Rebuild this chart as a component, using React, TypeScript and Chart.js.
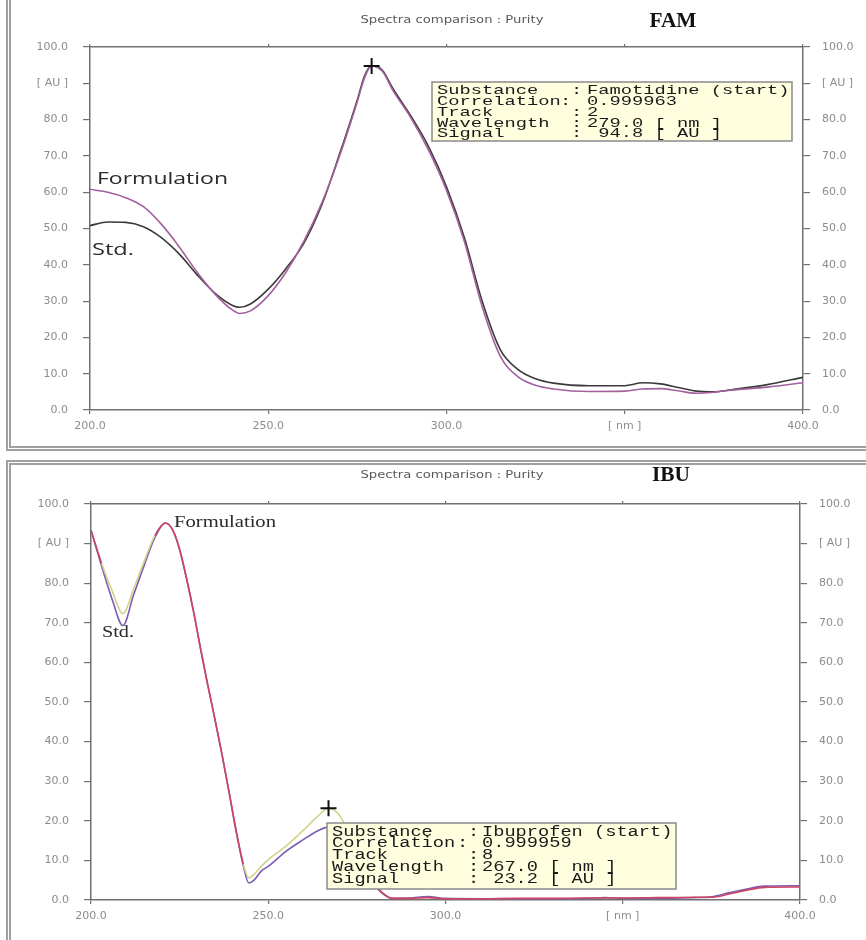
import React, { useEffect, useRef } from 'react';
import { Chart, registerables } from 'chart.js';

Chart.register(...registerables);

// ---------- data ----------
const seriesNames = ['Std.', 'Formulation'];
const chartTitle = 'Spectra comparison : Purity';

const xTickValues = [200, 250, 300, 350, 400];
const xTickLabels = ['200.0', '250.0', '300.0', '[ nm ]', '400.0'];
const yTickValues = [0, 10, 20, 30, 40, 50, 60, 70, 80, 90, 100];
const yTickLabels = ['0.0', '10.0', '20.0', '30.0', '40.0', '50.0', '60.0', '70.0', '80.0', '[ AU ]', '100.0'];

// FAM (Famotidine)
const famWavelengths = [200, 205, 210, 215, 220, 225, 230, 235, 240, 242, 245, 250, 255, 260, 265, 270, 275, 277, 279, 282, 285, 290, 295, 300, 305, 310, 315, 320, 325, 330, 340, 350, 355, 360, 365, 370, 375, 380, 390, 400];
const famStd = [50.8, 51.8, 51.7, 50.5, 47.5, 43.0, 37.3, 32.2, 28.8, 28.3, 29.2, 33.3, 39.0, 46.0, 56.5, 70.5, 85.5, 92.0, 94.8, 93.6, 88.5, 81.0, 72.5, 61.5, 47.5, 30.0, 16.8, 11.2, 8.6, 7.4, 6.7, 6.7, 7.5, 7.2, 6.2, 5.2, 5.0, 5.6, 7.0, 9.0];
const famFormulation = [60.8, 60.0, 58.5, 56.0, 51.2, 45.0, 38.0, 32.0, 27.5, 26.6, 27.3, 31.5, 38.0, 46.5, 57.0, 70.0, 85.0, 91.5, 94.8, 93.3, 88.0, 80.5, 71.5, 60.5, 46.5, 28.5, 15.0, 9.2, 6.8, 5.8, 5.1, 5.2, 5.8, 5.9, 5.3, 4.6, 4.9, 5.5, 6.3, 7.5];
const famPeak = [279.0, 94.8];
const famTag = 'FAM';
const famInfoLabels = ['Substance', 'Correlation', 'Track', 'Wavelength', 'Signal'];
const famInfoValues = ['Famotidine (start)', '0.999963', '2', '279.0 [ nm ]', ' 94.8 [ AU ]'];

// IBU (Ibuprofen)
const ibuWavelengths = [200, 203, 206, 209, 212, 215, 218, 221, 223, 225, 227, 229, 231, 233, 235, 237, 239, 241, 243, 244.5, 246, 248, 250, 255, 260, 264, 267, 270, 273, 276, 279, 282, 285, 290, 295, 300, 310, 320, 330, 340, 345, 350, 360, 370, 375, 380, 385, 390, 400];
const ibuStd = [93.4, 84.3, 75.8, 69.3, 77.0, 84.5, 91.5, 95.2, 93.5, 88.5, 81.0, 72.5, 63.0, 54.0, 45.5, 36.5, 27.0, 17.0, 8.5, 4.3, 5.0, 7.3, 8.5, 12.3, 15.3, 17.5, 18.4, 17.6, 14.5, 9.5, 4.8, 1.8, 0.4, 0.5, 0.9, 0.4, 0.3, 0.3, 0.3, 0.4, 0.6, 0.4, 0.4, 0.6, 0.8, 1.8, 2.8, 3.5, 3.6];
const ibuFormulation = [93.4, 85.0, 78.0, 72.3, 78.5, 85.5, 92.0, 95.2, 93.5, 88.5, 81.0, 72.5, 63.0, 54.0, 45.5, 36.5, 27.0, 17.3, 9.0, 5.6, 6.5, 8.5, 10.2, 13.6, 17.7, 21.2, 23.2, 21.5, 16.5, 10.5, 5.2, 2.0, 0.4, 0.4, 0.6, 0.3, 0.3, 0.4, 0.4, 0.5, 0.5, 0.5, 0.6, 0.7, 0.7, 1.5, 2.5, 3.2, 3.3];
const ibuPeak = [267.0, 23.2];
const ibuTag = 'IBU';
const ibuInfoLabels = ['Substance', 'Correlation', 'Track', 'Wavelength', 'Signal'];
const ibuInfoValues = ['Ibuprofen (start)', '0.999959', '8', '267.0 [ nm ]', ' 23.2 [ AU ]'];

// ---------- drawing helpers ----------
function fitText(ctx: any, text: string, x: number, y: number, w: number, font: string, color: string, align = 'left') {
  ctx.save();
  ctx.font = font;
  ctx.fillStyle = color;
  ctx.textBaseline = 'middle';
  ctx.textAlign = 'left';
  const m = ctx.measureText(text).width || 1;
  const x0 = align === 'center' ? x - w / 2 : x;
  ctx.translate(x0, y);
  ctx.scale(w / m, 1);
  ctx.fillText(text, 0, 0);
  ctx.restore();
}

function monoText(ctx: any, text: string, x: number, y: number, cw: number, font: string, color: string) {
  ctx.save();
  ctx.font = font;
  ctx.fillStyle = color;
  ctx.textBaseline = 'middle';
  ctx.textAlign = 'left';
  const m = ctx.measureText('0').width || 1;
  ctx.translate(x, y);
  ctx.scale(cw / m, 1);
  ctx.fillText(text, 0, 0);
  ctx.restore();
}

function makeAnnot(cfg: any) {
  return {
    id: 'annot_' + cfg.tag,
    afterDraw(chart: any) {
      const ctx = chart.ctx;
      const L = cfg.layout;
      // title & tag
      fitText(ctx, chartTitle, L.title.x, L.title.y, L.title.w, "10px 'DejaVu Sans'", '#5a5a5a', 'center');
      fitText(ctx, cfg.tag, L.tag.x, L.tag.y, L.tag.w, "bold 21px 'Liberation Serif'", '#111', 'center');
      // series labels
      L.labels.forEach((lb: any) => {
        fitText(ctx, seriesNames[lb.series], lb.x, lb.y, lb.w, lb.font, '#2a2a2a');
      });
      // crosshair at the peak
      const px = chart.scales.x.getPixelForValue(cfg.peak[0]);
      const py = chart.scales.y.getPixelForValue(cfg.peak[1]);
      ctx.save();
      ctx.strokeStyle = '#111';
      ctx.lineWidth = 2;
      ctx.beginPath();
      ctx.moveTo(px - 8, py);
      ctx.lineTo(px + 8, py);
      ctx.moveTo(px, py - 8);
      ctx.lineTo(px, py + 8);
      ctx.stroke();
      ctx.restore();
      // info box
      const B = L.box;
      ctx.save();
      ctx.fillStyle = '#ffffe0';
      ctx.fillRect(B.x, B.y, B.w, B.h);
      ctx.strokeStyle = '#8a8a8a';
      ctx.lineWidth = 1.5;
      ctx.strokeRect(B.x, B.y, B.w, B.h);
      ctx.restore();
      cfg.infoLabels.forEach((lab: string, i: number) => {
        const y = B.lineY[i];
        monoText(ctx, lab, B.labelX, y, B.cw, B.font, '#1a1a1a');
        monoText(ctx, ':', B.colonX[i], y, B.cw, B.font, '#1a1a1a');
        monoText(ctx, cfg.infoValues[i], B.valueX, y, B.cw, B.font, '#1a1a1a');
      });
    },
  };
}

const AXIS = '#707070';
const TICKFONT = { family: "'DejaVu Sans'", size: 11 };
const TICKCOLOR = '#8c8c8c';

function yTick(v: any) {
  const i = yTickValues.indexOf(Number(v));
  return i >= 0 ? yTickLabels[i] : '';
}
function xTick(v: any) {
  const i = xTickValues.indexOf(Number(v));
  return i >= 0 ? xTickLabels[i] : '';
}

function buildChart(canvas: HTMLCanvasElement, cfg: any) {
  const L = cfg.layout;
  const stdData = cfg.x.map((x: number, i: number) => ({ x, y: cfg.std[i] }));
  const formData = cfg.x.map((x: number, i: number) => ({ x, y: cfg.form[i] }));
  return new Chart(canvas, {
    type: 'line',
    data: {
      datasets: [
        {
          label: seriesNames[0],
          data: stdData,
          borderColor: cfg.stdColor,
          borderWidth: 1.6,
          pointRadius: 0,
          tension: 0.4,
          cubicInterpolationMode: 'monotone',
          fill: false,
          order: 1,
        },
        {
          label: seriesNames[1],
          data: formData,
          borderColor: cfg.formColor,
          borderWidth: 1.6,
          pointRadius: 0,
          tension: 0.4,
          cubicInterpolationMode: 'monotone',
          fill: false,
          order: 0,
          segment: cfg.segment,
        },
      ],
    },
    options: {
      responsive: false,
      animation: false,
      events: [],
      layout: { padding: { top: L.top, left: 0, right: 0, bottom: 0 } },
      plugins: { legend: { display: false }, tooltip: { enabled: false }, title: { display: false } },
      scales: {
        x: {
          type: 'linear',
          position: 'bottom',
          min: 200,
          max: 400,
          afterBuildTicks: (s: any) => { s.ticks = xTickValues.map((v) => ({ value: v })); },
          afterFit: (s: any) => { s.height = L.height - L.bottom; },
          border: { display: true, color: AXIS, width: 1.5 },
          grid: { drawOnChartArea: false, drawTicks: true, tickLength: 4, color: AXIS, lineWidth: 1.2 },
          ticks: { callback: xTick, font: TICKFONT, color: TICKCOLOR, padding: 6, maxRotation: 0, autoSkip: false },
        },
        xTop: {
          type: 'linear',
          axis: 'x',
          position: 'top',
          min: 200,
          max: 400,
          afterBuildTicks: (s: any) => { s.ticks = xTickValues.map((v) => ({ value: v })); },
          afterFit: (s: any) => { s.height = 0; },
          border: { display: true, color: AXIS, width: 1.5 },
          grid: { drawOnChartArea: false, drawTicks: true, tickLength: 3, color: AXIS, lineWidth: 1.2 },
          ticks: { display: false },
        },
        y: {
          type: 'linear',
          position: 'left',
          min: 0,
          max: 100,
          afterBuildTicks: (s: any) => { s.ticks = yTickValues.map((v) => ({ value: v })); },
          afterFit: (s: any) => { s.width = L.left; },
          border: { display: true, color: AXIS, width: 1.5 },
          grid: { drawOnChartArea: false, drawTicks: true, tickLength: 7, color: AXIS, lineWidth: 1.2 },
          ticks: { callback: yTick, font: TICKFONT, color: TICKCOLOR, padding: 15, autoSkip: false },
        },
        yRight: {
          type: 'linear',
          axis: 'y',
          position: 'right',
          min: 0,
          max: 100,
          afterBuildTicks: (s: any) => { s.ticks = yTickValues.map((v) => ({ value: v })); },
          afterFit: (s: any) => { s.width = 866 - L.right; },
          border: { display: true, color: AXIS, width: 1.5 },
          grid: { drawOnChartArea: false, drawTicks: true, tickLength: 7, color: AXIS, lineWidth: 1.2 },
          ticks: { callback: yTick, font: TICKFONT, color: TICKCOLOR, padding: 12, autoSkip: false },
        },
      },
    } as any,
    plugins: [makeAnnot(cfg)],
  } as any);
}

const famLayout = {
  height: 452,
  left: 90,
  right: 803,
  top: 47,
  bottom: 410,
  title: { x: 452, y: 20, w: 183 },
  tag: { x: 673, y: 22, w: 47 },
  labels: [
    { series: 1, x: 97, y: 179, w: 131, font: "17px 'Open Sans'" },
    { series: 0, x: 92, y: 250, w: 42, font: "17px 'Open Sans'" },
  ],
  box: {
    x: 432, y: 82, w: 360, h: 59,
    lineY: [91, 102, 113, 123.5, 134],
    labelX: 437, colonX: [571, 560, 571, 571, 571], valueX: 587,
    cw: 11.25, font: "13px 'Liberation Mono'",
  },
};

const ibuLayout = {
  height: 485,
  left: 91,
  right: 800,
  top: 49,
  bottom: 445,
  title: { x: 452, y: 20, w: 183 },
  tag: { x: 671, y: 21, w: 38 },
  labels: [
    { series: 1, x: 174, y: 68, w: 102, font: "16px 'Liberation Serif'" },
    { series: 0, x: 102, y: 178, w: 32, font: "16px 'Liberation Serif'" },
  ],
  box: {
    x: 327, y: 368, w: 349, h: 66,
    lineY: [377, 388.5, 400, 412, 424],
    labelX: 332, colonX: [468, 457, 468, 468, 468], valueX: 482,
    cw: 11.2, font: "14px 'Liberation Mono'",
  },
};

const IBU_FORM = '#d2d28a';
const IBU_OVERLAP = '#cf4463';

export default function App() {
  const topRef = useRef<HTMLCanvasElement>(null);
  const botRef = useRef<HTMLCanvasElement>(null);

  useEffect(() => {
    document.body.style.margin = '0';
    const c1 = buildChart(topRef.current as HTMLCanvasElement, {
      tag: famTag,
      x: famWavelengths,
      std: famStd,
      form: famFormulation,
      peak: famPeak,
      infoLabels: famInfoLabels,
      infoValues: famInfoValues,
      stdColor: '#3a3a3a',
      formColor: '#a3609f',
      layout: famLayout,
    });
    const c2 = buildChart(botRef.current as HTMLCanvasElement, {
      tag: ibuTag,
      x: ibuWavelengths,
      std: ibuStd,
      form: ibuFormulation,
      peak: ibuPeak,
      infoLabels: ibuInfoLabels,
      infoValues: ibuInfoValues,
      stdColor: '#7b5cb3',
      formColor: IBU_FORM,
      segment: {
        borderColor: (sc: any) => {
          const a = sc.p0DataIndex, b = sc.p1DataIndex;
          const d = Math.max(Math.abs(ibuFormulation[a] - ibuStd[a]), Math.abs(ibuFormulation[b] - ibuStd[b]));
          return d < 1 ? IBU_OVERLAP : IBU_FORM;
        },
      },
      layout: ibuLayout,
    });
    return () => {
      c1.destroy();
      c2.destroy();
    };
  }, []);

  return (
    <div style={{ position: 'relative', width: 866, height: 940, background: '#fff', overflow: 'hidden' }}>
      <div style={{ position: 'absolute', left: 6, top: 0, width: 860, height: 446, borderLeft: '5px double #a0a0a0', borderBottom: '5px double #a0a0a0' }} />
      <div style={{ position: 'absolute', left: 6, top: 460, width: 860, height: 480, borderLeft: '5px double #a0a0a0', borderTop: '5px double #a0a0a0' }} />
      <canvas ref={topRef} width={866} height={452} style={{ position: 'absolute', left: 0, top: 0, width: 866, height: 452 }} />
      <canvas ref={botRef} width={866} height={485} style={{ position: 'absolute', left: 0, top: 455, width: 866, height: 485 }} />
    </div>
  );
}
